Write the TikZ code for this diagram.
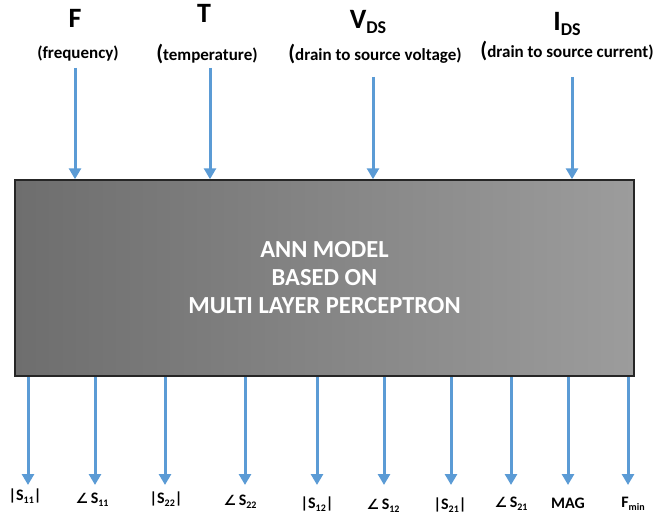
\documentclass[tikz,border=0pt]{standalone}
\usepackage{fontspec}
\setmainfont{Carlito}
\newfontfamily\symf{DejaVu Sans}
\usetikzlibrary{arrows.meta}
\definecolor{arrblue}{HTML}{5B9BD5}
\definecolor{boxleft}{HTML}{6E6E6E}
\definecolor{boxright}{HTML}{9C9C9C}
\definecolor{boxline}{HTML}{262626}
\newcommand{\sbx}[1]{\raisebox{-0.35ex}{\fontsize{10}{10}\selectfont #1}}
\newcommand{\bsub}[1]{\raisebox{-0.3ex}{\fontsize{18}{18}\selectfont #1}}
\newcommand{\angl}{{\symf\fontsize{14}{14}\selectfont ∠}\,}
\newcommand{\bigparen}[1]{{\fontsize{22}{22}\selectfont #1}}
\begin{document}
\begin{tikzpicture}[x=1pt,y=-1pt,
  arr/.style={draw=arrblue, line width=3pt, -{Triangle[width=12pt,length=11pt]}},
  big/.style={font=\bfseries\fontsize{28}{30}\selectfont, inner sep=0pt},
  small/.style={font=\bfseries\fontsize{17}{20}\selectfont, inner sep=0pt},
  outl/.style={font=\bfseries\fontsize{16}{18}\selectfont, inner sep=0pt},
  annbox/.style={draw=boxline, line width=1.5pt, left color=boxleft, right color=boxright,
    minimum width=619pt, minimum height=196pt, inner sep=0pt, text=white, align=center,
    font=\bfseries\fontsize{24.5}{28}\selectfont}
]
\useasboundingbox (0,0) rectangle (658,516);

% central box
\node[annbox] (box) at (324.5,278) {ANN MODEL\\BASED ON\\MULTI LAYER PERCEPTRON};

% input labels
\node[big] (lF) at (75,18) {F};
\node[big] (lT) at (204,13) {T};
\node[big] (lV) at (368,22) {V\bsub{DS}};
\node[big] (lI) at (567,24) {I\bsub{DS}};
\node[small] (dF) at (78,54) {(frequency)};
\node[small] (dT) at (207,54) {\bigparen{(}temperature)};
\node[small] (dV) at (375,54) {\bigparen{(}drain to source voltage)};
\node[small] (dI) at (567,51) {\bigparen{(}drain to source current)};

% input arrow start points
\coordinate (iF) at (75,68);
\coordinate (iT) at (210,68);
\coordinate (iV) at (373,77);
\coordinate (iI) at (572,77);
\draw[arr] (iF) -- (iF |- box.north);
\draw[arr] (iT) -- (iT |- box.north);
\draw[arr] (iV) -- (iV |- box.north);
\draw[arr] (iI) -- (iI |- box.north);

% output arrow end points
\coordinate (o1) at (28,485);
\coordinate (o2) at (95,485);
\coordinate (o3) at (165,485);
\coordinate (o4) at (245,485);
\coordinate (o5) at (317,485);
\coordinate (o6) at (384,485);
\coordinate (o7) at (451,485);
\coordinate (o8) at (511,485);
\coordinate (o9) at (568,485);
\coordinate (o10) at (628,485);
\foreach \k in {1,...,10}{
  \draw[arr] (o\k |- box.south) -- (o\k);
}

% output labels
\node[outl] (t1) at (25,496) {|S\sbx{11}|};
\node[outl] (t2) at (92,500) {\angl S\sbx{11}};
\node[outl] (t3) at (166,499) {|S\sbx{22}|};
\node[outl] (t4) at (240,502) {\angl S\sbx{22}};
\node[outl] (t5) at (317,504) {|S\sbx{12}|};
\node[outl] (t6) at (383,506) {\angl S\sbx{12}};
\node[outl] (t7) at (450,505) {|S\sbx{21}|};
\node[outl] (t8) at (511,504) {\angl S\sbx{21}};
\node[outl] (t9) at (568,503) {MAG};
\node[outl] (t10) at (633,504) {F\sbx{min}};
\end{tikzpicture}
\end{document}
